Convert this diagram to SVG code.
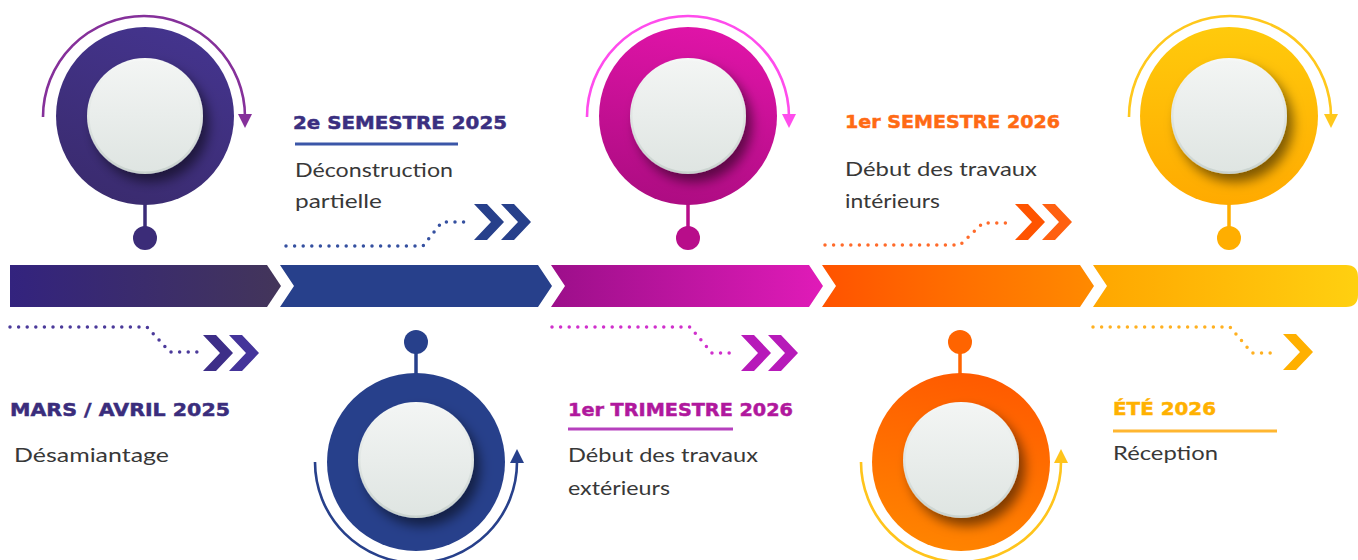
<svg xmlns="http://www.w3.org/2000/svg" width="1358" height="560" viewBox="0 0 1358 560">
<style>
.hd{font-family:"DejaVu Sans","Liberation Sans",sans-serif;font-weight:bold;font-size:18px;stroke-width:0.5px;paint-order:stroke}
.tx{font-family:"Lato","DejaVu Sans",sans-serif;font-size:19px;fill:#383838}
.dots{fill:none;stroke-width:3.5;stroke-linecap:round;stroke-dasharray:0 8.6}
.arc{fill:none;stroke-width:2.6}
.ul{stroke-width:3;fill:none}
.stem{stroke-width:3.5}
</style>
<defs>
<filter id="sh" x="-40%" y="-40%" width="180%" height="180%">
<feDropShadow dx="6" dy="8" stdDeviation="6" flood-color="#000" flood-opacity="0.5"/>
</filter>
<linearGradient id="inRim" x1="0" y1="0" x2="0" y2="1"><stop offset="0" stop-color="#f6f8f7"/><stop offset="1" stop-color="#c9d2ce"/></linearGradient>
<linearGradient id="inFace" x1="0" y1="0" x2="0" y2="1"><stop offset="0" stop-color="#f3f5f4"/><stop offset="1" stop-color="#dfe5e2"/></linearGradient>
<linearGradient id="s1" x1="0" y1="0" x2="1" y2="0"><stop offset="0" stop-color="#33237e"/><stop offset="1" stop-color="#43355a"/></linearGradient>
<linearGradient id="s3" x1="0" y1="0" x2="1" y2="0"><stop offset="0" stop-color="#9c0f8a"/><stop offset="1" stop-color="#e01bb8"/></linearGradient>
<linearGradient id="s4" x1="0" y1="0" x2="1" y2="0"><stop offset="0" stop-color="#ff5300"/><stop offset="1" stop-color="#ff8a00"/></linearGradient>
<linearGradient id="s5" x1="0" y1="0" x2="1" y2="0"><stop offset="0" stop-color="#ffa600"/><stop offset="1" stop-color="#ffd010"/></linearGradient>
<linearGradient id="c1" x1="0.7" y1="0" x2="0.3" y2="1"><stop offset="0" stop-color="#44348e"/><stop offset="1" stop-color="#3a2b6e"/></linearGradient>
<linearGradient id="c3" x1="0.6" y1="0" x2="0.4" y2="1"><stop offset="0" stop-color="#e014a8"/><stop offset="1" stop-color="#ad0c82"/></linearGradient>
<linearGradient id="c4" x1="0.6" y1="0" x2="0.4" y2="1"><stop offset="0" stop-color="#ff5a00"/><stop offset="1" stop-color="#ff8400"/></linearGradient>
<linearGradient id="c5" x1="0.5" y1="0" x2="0.5" y2="1"><stop offset="0" stop-color="#ffca0c"/><stop offset="1" stop-color="#ffaa00"/></linearGradient>
<linearGradient id="u1" x1="0" y1="0" x2="1" y2="0"><stop offset="0" stop-color="#a8379d"/><stop offset="1" stop-color="#7a3fae"/></linearGradient>
<linearGradient id="u4" x1="0" y1="0" x2="1" y2="0"><stop offset="0" stop-color="#ff9d35"/><stop offset="1" stop-color="#ff6420"/></linearGradient>
<g id="knob">
<circle r="58" fill="url(#inRim)" filter="url(#sh)"/>
<circle r="55.5" fill="url(#inFace)"/>
</g>
<polygon id="chev" points="0,-18 13,-18 30,0 13,18 0,18 17,0"/>
</defs>

<g id="timeline">
<polygon points="10,265 267,265 281,286 267,307 10,307" fill="url(#s1)"/>
<polygon points="280,265 538,265 552,286 538,307 280,307 294,286" fill="#27408b"/>
<polygon points="551,265 809,265 823,286 809,307 551,307 565,286" fill="url(#s3)"/>
<polygon points="822,265 1080,265 1094,286 1080,307 822,307 836,286" fill="url(#s4)"/>
<path d="M1093,265 H1346 Q1358,265 1358,277 V295 Q1358,307 1346,307 H1093 L1107,286 Z" fill="url(#s5)"/>
</g>

<g id="connectors">
<path class="dots" stroke="#4b3a9a" d="M10,327 H147 L170,352 H200"/>
<use href="#chev" x="203" y="353" fill="#3d2e88"/>
<use href="#chev" x="229" y="353" fill="#44349a"/>
<path class="dots" stroke="#3550a0" d="M286,246 H423 L442,222 H470"/>
<use href="#chev" x="474" y="222" fill="#27408b"/>
<use href="#chev" x="501" y="222" fill="#27408b"/>
<path class="dots" stroke="#d030cc" d="M552,327 H690 L712,353 H737"/>
<use href="#chev" x="741" y="353" fill="#b71ab9"/>
<use href="#chev" x="768" y="353" fill="#b71ab9"/>
<path class="dots" stroke="#ff6a2a" d="M825,245 H960 L983,223 H1012"/>
<use href="#chev" x="1015" y="222" fill="#ff5400"/>
<use href="#chev" x="1042" y="222" fill="#ff6010"/>
<path class="dots" stroke="#ffb020" d="M1093,327 H1230 L1252,353 H1278"/>
<use href="#chev" x="1283" y="352" fill="#ffb000"/>
</g>

<g id="node1">
<path class="arc" stroke="#85309a" d="M43,117 A101,101 0 0 1 245,117"/>
<polygon points="238,114 252,114 245,128" fill="#85309a"/>
<line class="stem" x1="145" y1="200" x2="145" y2="236" stroke="#3b2c78"/>
<circle cx="145" cy="238" r="12" fill="#3b2c78"/>
<circle cx="145" cy="116" r="89" fill="url(#c1)"/>
<use href="#knob" x="145" y="116"/>
<text class="hd" x="10" y="416" fill="#3a2d7c" stroke="#3a2d7c" textLength="220" lengthAdjust="spacingAndGlyphs">MARS / AVRIL 2025</text>
<line class="ul" x1="10" y1="432" x2="183" y2="432" stroke="url(#u1)"/>
<text class="tx" x="14" y="462" textLength="155" lengthAdjust="spacingAndGlyphs">Désamiantage</text>
</g>

<g id="node2">
<path class="arc" stroke="#27408b" d="M315,462 A101,101 0 0 0 517,462"/>
<polygon points="510,463 524,463 517,449" fill="#27408b"/>
<line class="stem" x1="416" y1="344" x2="416" y2="378" stroke="#27408b"/>
<circle cx="416" cy="342" r="12" fill="#27408b"/>
<circle cx="416" cy="462" r="89" fill="#27408b"/>
<use href="#knob" x="416" y="460"/>
<text class="hd" x="293" y="129" fill="#3a2f80" stroke="#3a2f80" textLength="214" lengthAdjust="spacingAndGlyphs">2e SEMESTRE 2025</text>
<line class="ul" x1="295" y1="144" x2="458" y2="144" stroke="#3b56a8"/>
<text class="tx" x="295" y="177" textLength="158" lengthAdjust="spacingAndGlyphs">Déconstruction</text>
<text class="tx" x="295" y="208" textLength="87" lengthAdjust="spacingAndGlyphs">partielle</text>
</g>

<g id="node3">
<path class="arc" stroke="#ff4cec" d="M587,117 A101,101 0 0 1 789,117"/>
<polygon points="782,114 796,114 789,128" fill="#ff4cec"/>
<line class="stem" x1="688" y1="200" x2="688" y2="236" stroke="#b80d8a"/>
<circle cx="688" cy="238" r="12" fill="#b80d8a"/>
<circle cx="688" cy="116" r="89" fill="url(#c3)"/>
<use href="#knob" x="688" y="116"/>
<text class="hd" x="568" y="416" fill="#b0189d" stroke="#b0189d" textLength="225" lengthAdjust="spacingAndGlyphs">1er TRIMESTRE 2026</text>
<line class="ul" x1="568" y1="429" x2="733" y2="429" stroke="#b640bd"/>
<text class="tx" x="568" y="462" textLength="190" lengthAdjust="spacingAndGlyphs">Début des travaux</text>
<text class="tx" x="568" y="495" textLength="102" lengthAdjust="spacingAndGlyphs">extérieurs</text>
</g>

<g id="node4">
<path class="arc" stroke="#ffc41c" d="M861,462 A100,100 0 0 0 1061,462"/>
<polygon points="1054,463 1068,463 1061,449" fill="#ffc41c"/>
<line class="stem" x1="960" y1="344" x2="960" y2="378" stroke="#ff6400"/>
<circle cx="960" cy="342" r="12" fill="#ff6400"/>
<circle cx="961" cy="462" r="89" fill="url(#c4)"/>
<use href="#knob" x="961" y="460"/>
<text class="hd" x="845" y="128" fill="#ff6a14" stroke="#ff6a14" textLength="215" lengthAdjust="spacingAndGlyphs">1er SEMESTRE 2026</text>
<line class="ul" x1="845" y1="145" x2="1020" y2="145" stroke="url(#u4)"/>
<text class="tx" x="845" y="176" textLength="192" lengthAdjust="spacingAndGlyphs">Début des travaux</text>
<text class="tx" x="845" y="208" textLength="95" lengthAdjust="spacingAndGlyphs">intérieurs</text>
</g>

<g id="node5">
<path class="arc" stroke="#ffc81c" d="M1129,117 A101,101 0 0 1 1331,117"/>
<polygon points="1324,114 1338,114 1331,128" fill="#ffc81c"/>
<line class="stem" x1="1229" y1="200" x2="1229" y2="236" stroke="#ffae00"/>
<circle cx="1229" cy="238" r="12" fill="#ffae00"/>
<circle cx="1229" cy="116" r="89" fill="url(#c5)"/>
<use href="#knob" x="1229" y="116"/>
<text class="hd" x="1113" y="415" fill="#ffb100" stroke="#ffb100" textLength="103" lengthAdjust="spacingAndGlyphs">ÉTÉ 2026</text>
<line class="ul" x1="1113" y1="431" x2="1277" y2="431" stroke="#ffb630"/>
<text class="tx" x="1113" y="460" textLength="105" lengthAdjust="spacingAndGlyphs">Réception</text>
</g>
</svg>
